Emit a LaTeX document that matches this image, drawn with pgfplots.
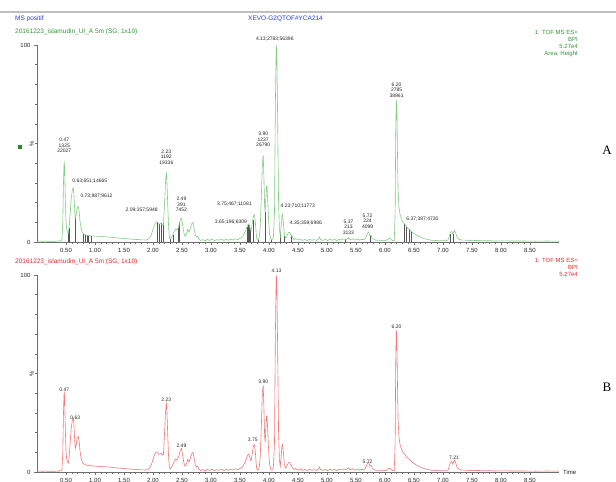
\documentclass[border=0pt]{standalone}
\usepackage{pgfplots}
\pgfplotsset{compat=1.18}
\usepackage{pgfplotstable}
\usepackage{fontspec}
\setmainfont{Liberation Sans}
\newfontfamily\serifA{Liberation Serif}
\definecolor{trgreen}{RGB}{130,205,130}
\definecolor{trred}{RGB}{244,120,120}
\definecolor{txgreen}{RGB}{50,150,50}
\definecolor{txblue}{RGB}{40,60,230}
\definecolor{txred}{RGB}{235,40,40}
\definecolor{axgray}{RGB}{110,110,110}
\definecolor{dropgray}{RGB}{85,85,85}

\pgfplotstableread{
t v
0.00 0.3
0.05 0.5
0.10 0.3
0.15 0.5
0.20 0.3
0.25 0.4
0.30 0.3
0.35 0.5
0.40 0.5
0.43 1.0
0.445 10
0.455 28
0.465 39
0.472 40
0.48 33
0.49 20
0.50 11
0.51 7
0.525 5
0.54 4.5
0.555 8
0.57 14
0.59 22
0.61 26.5
0.625 27.5
0.635 25
0.65 16
0.66 12
0.675 13.5
0.69 17
0.71 18
0.725 16
0.74 11
0.76 7
0.78 5
0.80 4.2
0.85 3.5
0.90 3.2
1.00 3.0
1.10 2.8
1.20 2.6
1.30 2.3
1.40 2.0
1.50 1.8
1.60 1.5
1.70 1.3
1.80 1.1
1.88 1.0
1.93 1.6
1.97 3.5
2.00 6.5
2.03 9
2.06 10.2
2.08 10
2.10 9
2.12 9.2
2.14 9.5
2.16 8.5
2.18 9
2.20 20
2.215 30
2.23 35.5
2.24 31
2.255 18
2.27 7
2.285 2
2.30 1.5
2.33 3
2.36 5
2.39 6.5
2.41 6
2.44 7.5
2.47 11
2.49 12
2.51 9
2.53 5
2.55 3
2.57 3.5
2.60 6.5
2.62 5
2.645 7
2.67 9.5
2.69 10
2.71 7
2.73 3.5
2.75 2.5
2.77 3
2.79 1.5
2.82 0.8
2.86 1.2
2.90 0.7
2.94 1.3
2.98 0.8
3.02 1.4
3.06 0.7
3.10 1.2
3.14 0.9
3.18 1.5
3.22 0.8
3.26 1.3
3.30 0.9
3.34 1.4
3.38 1.0
3.42 1.6
3.46 1.2
3.50 1.8
3.54 2.5
3.57 4
3.60 6
3.63 8.5
3.65 9.2
3.67 7.5
3.69 5.5
3.71 9
3.73 13
3.75 13.8
3.765 10
3.78 4
3.79 1.5
3.81 1.0
3.83 2
3.85 8
3.87 25
3.885 40
3.90 44
3.91 35
3.925 18
3.935 15
3.945 22
3.955 28
3.965 28.5
3.98 20
3.995 10
4.01 4
4.03 1.5
4.05 1.0
4.075 2
4.095 15
4.11 70
4.125 100
4.135 97
4.15 60
4.165 20
4.18 6
4.195 3
4.21 8
4.225 13.5
4.235 14
4.25 9
4.265 4
4.28 2
4.30 2.5
4.33 4.5
4.35 5
4.37 4
4.40 2.5
4.43 1.2
4.46 1.8
4.50 1.0
4.54 1.6
4.58 0.8
4.62 1.3
4.66 0.7
4.70 1.4
4.74 0.9
4.78 1.2
4.82 0.8
4.85 1.5
4.87 2.5
4.89 1.2
4.93 0.8
4.97 1.4
5.01 0.7
5.05 1.5
5.09 0.9
5.13 1.3
5.17 0.7
5.21 1.4
5.25 1.0
5.29 1.6
5.33 1.1
5.37 2.2
5.40 1.2
5.44 1.7
5.48 0.9
5.52 1.5
5.56 1.0
5.60 1.3
5.64 1.2
5.67 2.5
5.70 4.5
5.72 5
5.74 3
5.76 3.5
5.78 2
5.81 1.3
5.85 0.8
5.89 1.0
5.93 0.6
5.97 0.9
6.01 0.7
6.05 1.4
6.08 2
6.11 1.2
6.14 0.6
6.16 0.7
6.175 15
6.185 55
6.195 72
6.205 68
6.215 45
6.225 27
6.24 18
6.26 14
6.28 12
6.31 10
6.34 9
6.38 7.5
6.42 6.3
6.46 5.2
6.50 4.3
6.55 3.4
6.60 2.6
6.65 2.0
6.70 1.5
6.75 1.2
6.80 0.9
6.90 0.7
7.00 0.6
7.06 0.7
7.09 1.2
7.11 3
7.13 5
7.15 5.3
7.17 4
7.185 5.2
7.20 6
7.22 4.5
7.24 2.5
7.27 1.5
7.32 1.0
7.40 0.9
7.50 0.7
7.60 0.8
7.70 0.6
7.80 0.7
7.90 0.5
8.00 0.6
8.20 0.5
8.40 0.5
8.60 0.4
8.80 0.5
9.00 0.4
}\trace

\pgfplotstableread{
t v
0.53 5
0.555 7
0.655 12
0.665 12.5
0.80 4.2
0.83 3.6
0.86 3.4
0.89 3.2
0.93 3.1
2.08 10
2.11 9
2.14 9.5
2.17 8.8
2.30 1.5
2.34 3.4
2.43 7
2.46 10
3.62 7.5
3.64 9
3.66 8.5
3.68 6.5
3.72 11
3.81 1.0
3.935 15
4.04 1.2
4.20 5
4.27 3
4.38 3.5
5.32 1.3
5.75 3.2
6.33 9
6.37 7.7
6.41 6.5
6.45 5.3
7.12 4
7.17 4
}\drops

\pgfplotsset{chrom/.style={
  scale only axis, width=522pt, height=197pt,
  xmin=0, xmax=9, ymin=0, ymax=100,
  axis lines*=left, axis line style={draw=axgray,-},
  xtick={0.5,1,1.5,2,2.5,3,3.5,4,4.5,5,5.5,6,6.5,7,7.5,8,8.5},
  minor x tick num=4,
  ytick={0,100}, minor ytick={10,20,30,40,50,60,70,80,90},
  tick align=outside, major tick length=3pt, minor tick length=1.6pt,
  tick style={draw=axgray, line width=0.4pt},
  tick label style={font=\fontsize{6}{7}\selectfont, text=black!85},
  xticklabel style={/pgf/number format/.cd, fixed, fixed zerofill, precision=2, assume math mode=true},
  yticklabel style={/pgf/number format/assume math mode=true},
  xtick pos=bottom, ytick pos=left,
  clip=false,
}}

\begin{document}
\begin{tikzpicture}[x=1pt,y=1pt]
\useasboundingbox (0,0) rectangle (616,482);
\tikzset{lab/.style={font=\fontsize{5}{5.6}\selectfont, inner sep=0.4pt, align=center, text=black!85}}

% header
\draw[line width=2pt, black!25] (0,469.5) -- (616,469.5);
\node[anchor=west, inner sep=0, text=txblue, font=\fontsize{6.5}{7}\selectfont] at (15,463) {MS positif};
\node[anchor=west, inner sep=0, text=txblue, font=\fontsize{6.5}{7}\selectfont] at (248,463) {XEVO-G2QTOF\#YCA214};
\node[anchor=west, inner sep=0, text=txgreen, font=\fontsize{6.5}{7}\selectfont] at (15,450) {20161223\_islamudin\_UI\_A 5m (SG, 1x10)};
\node[anchor=north east, inner sep=0, align=right, text=txgreen, font=\fontsize{6}{7}\selectfont] at (578,452) {1: TOF MS ES+\\BPI\\5.27e4\\Area, Height};

% panel A
\begin{axis}[chrom, at={(37pt,240pt)}, anchor=origin]
\addplot[ycomb, dropgray, line width=0.4pt, forget plot] table[x=t,y=v] {\drops};
\addplot[trgreen, line width=0.6pt, mark=none] table[x=t,y=v] {\trace};
\node[lab, anchor=south] at (axis cs:0.47,45) {0.47\\1325\\22027};
\node[lab, anchor=west] at (axis cs:0.60,31) {0.63;651;14665};
\node[lab, anchor=west] at (axis cs:0.74,23.4) {0.73;887;9612};
\node[lab, anchor=east] at (axis cs:2.09,16) {2.09;357;5948};
\node[lab, anchor=south] at (axis cs:2.23,39) {2.23\\1192\\19336};
\node[lab, anchor=south] at (axis cs:2.49,15) {2.49\\391\\7452};
\node[lab, anchor=east] at (axis cs:3.71,19) {3.75;467;11081};
\node[lab, anchor=east] at (axis cs:3.63,10) {3.65;196;6309};
\node[lab, anchor=south] at (axis cs:3.90,48) {3.90\\1237\\26790};
\node[lab, anchor=south] at (axis cs:4.10,101.5) {4.13;2783;56396};
\node[lab, anchor=west] at (axis cs:4.19,18) {4.23;710;11773};
\node[lab, anchor=west] at (axis cs:4.35,9.6) {4.35;359;6986};
\node[lab, anchor=south] at (axis cs:5.37,3.5) {5.37\\213\\3133};
\node[lab, anchor=south] at (axis cs:5.70,6.6) {5.72\\224\\4099};
\node[lab, anchor=south] at (axis cs:6.20,73) {6.20\\2785\\38961};
\node[lab, anchor=west] at (axis cs:6.36,11.7) {6.37;387;4730};
\node[rotate=90, font=\fontsize{6}{7}\selectfont, text=black!85] at (axis cs:-0.09,50) {\%};
\end{axis}
\node[fill=txgreen!90!black, minimum size=3.6pt, inner sep=0] at (20,335) {};
\node[font=\serifA\fontsize{13}{14}\selectfont] at (607,332) {A};

% panel B header
\node[anchor=west, inner sep=0, text=txred, font=\fontsize{6.5}{7}\selectfont] at (15,220) {20161223\_islamudin\_UI\_A 5m (SG, 1x10)};
\node[anchor=north east, inner sep=0, align=right, text=txred, font=\fontsize{6}{7}\selectfont] at (578,224) {1: TOF MS ES+\\BPI\\5.27e4};

% panel B
\begin{axis}[chrom, at={(37pt,10pt)}, anchor=origin]
\addplot[trred, line width=0.6pt, mark=none] table[x=t,y=v] {\trace};
\node[lab, anchor=south] at (axis cs:0.47,40.5) {0.47};
\node[lab, anchor=south] at (axis cs:0.66,26.5) {0.63};
\node[lab, anchor=south] at (axis cs:2.23,35.5) {2.23};
\node[lab, anchor=south] at (axis cs:2.49,12) {2.49};
\node[lab, anchor=south] at (axis cs:3.72,15) {3.75};
\node[lab, anchor=south] at (axis cs:3.90,44.5) {3.90};
\node[lab, anchor=south] at (axis cs:4.13,101) {4.13};
\node[lab, anchor=south] at (axis cs:5.70,4) {5.72};
\node[lab, anchor=south] at (axis cs:6.20,72.5) {6.20};
\node[lab, anchor=south] at (axis cs:7.19,6) {7.21};
\node[rotate=90, font=\fontsize{6}{7}\selectfont, text=black!85] at (axis cs:-0.09,50) {\%};
\end{axis}
\node[anchor=west, inner sep=0, font=\fontsize{6}{7}\selectfont, text=black!85] at (563,10) {Time};
\node[font=\serifA\fontsize{13}{14}\selectfont] at (607,95) {B};
\end{tikzpicture}
\end{document}
